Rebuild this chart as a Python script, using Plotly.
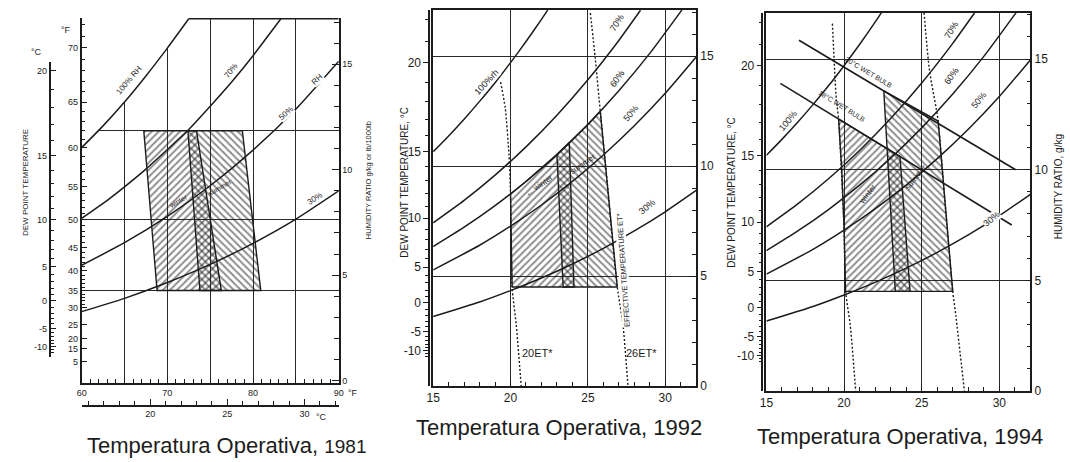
import plotly.graph_objects as go

FIG_W, FIG_H = 1070, 462
INK = "#1c1c1c"
GRID = "#2a2a2a"
FONT = "Liberation Sans, Arial, sans-serif"

# ---------------- 1981 chart: operative temperature in °F, humidity ratio in g/kg ----------------
f81_t100 = [60, 62.5, 65, 67.5, 70, 72.5]
f81_rh100 = [11.05, 12.08, 13.21, 14.45, 15.77, 17.16]
f81_t70 = [60, 62.5, 65, 67.5, 70, 72.5, 75, 77.5, 80, 83.25]
f81_rh70 = [7.69, 8.40, 9.19, 10.03, 10.96, 11.91, 13.01, 14.16, 15.41, 17.16]
f81_t = [60, 65, 70, 75, 80, 85, 90]
f81_rh50 = [5.47, 6.54, 7.79, 9.24, 10.93, 12.88, 15.15]
f81_rh30 = [3.27, 3.90, 4.65, 5.51, 6.51, 7.66, 9.00]
f81_dewpoint_lines = [11.85, 7.63, 4.27]          # 62 °F, 50 °F, 35 °F dew point
f81_winter_t = [67.25, 73.4, 76.3, 68.8]
f81_winter_w = [11.85, 11.85, 4.27, 4.27]
f81_summer_t = [72.4, 78.75, 80.9, 73.8]
f81_summer_w = [11.85, 11.85, 4.27, 4.27]

dpF_text = ["70", "65", "60", "55", "50", "45", "40", "35", "30", "25", "20", "15", "5"]
dpF_w = [15.8, 13.21, 11.05, 9.19, 7.63, 6.31, 5.20, 4.27, 3.45, 2.65, 2.0, 1.5, 0.9]
dpF_minor_w = [3.6, 3.78, 3.94, 4.09, 4.43, 4.62, 4.80, 4.99, 5.40, 5.62, 5.85, 6.07,
               6.56, 6.82, 7.08, 7.35, 7.93, 8.22, 8.54, 8.86, 9.54, 9.90, 10.27,
               10.65, 11.45, 11.88, 12.31, 12.76, 13.70, 14.19, 14.70, 15.24, 16.34, 16.9]

# dew point scale in °C (shared by all three charts)
dpC_text = ["20", "15", "10", "5", "0", "-5", "-10"]
dpC_w = [14.70, 10.65, 7.63, 5.40, 3.78, 2.47, 1.60]
dpC_minor_w = [1.34, 1.46, 1.60, 1.75, 1.91, 2.08, 2.27, 2.47, 2.69, 2.93, 3.19, 3.47,
               3.78, 4.06, 4.36, 4.69, 5.03, 5.40, 5.80, 6.21, 6.66, 7.13, 7.63, 8.16,
               8.73, 9.33, 9.97, 10.65, 11.37, 12.13, 12.94, 13.79, 14.70, 15.66, 16.67]

# ---------------- 1992 / 1994 charts: operative temperature in °C ----------------
c_t100 = [15, 16, 17, 18, 19, 20, 21, 22, 22.4]
c_rh100 = [10.65, 11.37, 12.13, 12.94, 13.79, 14.70, 15.66, 16.67, 17.09]
c_t70 = [15, 17, 19, 21, 23, 25, 27, 28.4]
c_rh70 = [7.42, 8.44, 9.59, 10.87, 12.31, 13.92, 15.71, 17.08]
c_t60 = [15, 17, 19, 21, 23, 25, 27, 29, 31.08]
c_rh60 = [6.34, 7.22, 8.20, 9.30, 10.52, 11.89, 13.42, 15.12, 17.1]
c_t = [15, 18, 20, 22, 24, 26, 28, 30, 32]
c_rh50 = [5.28, 6.40, 7.27, 8.23, 9.30, 10.50, 11.83, 13.31, 14.96]
c_rh30 = [3.16, 3.82, 4.34, 4.91, 5.55, 6.26, 7.05, 7.92, 8.89]

# 1992 comfort zones and effective temperature lines
f92_winter_t = [20.1, 20.0, 21.0, 23.0, 23.8, 24.1]
f92_winter_w = [4.5, 8.73, 9.30, 10.52, 11.06, 4.5]
f92_summer_t = [23.0, 24.0, 25.0, 25.8, 26.15, 26.9, 23.4]
f92_summer_w = [10.52, 11.19, 11.89, 12.49, 10.0, 4.5, 4.5]
f92_et20_t = [19.36, 19.66, 19.9, 20.0, 20.1, 20.37, 20.69]
f92_et20_w = [13.82, 12.63, 10.5, 8.73, 4.5, 2.78, 0.0]
f92_et26_t = [25.16, 25.48, 25.8, 26.15, 26.9, 27.27, 27.59]
f92_et26_w = [16.96, 14.87, 12.49, 10.0, 4.5, 2.78, 0.0]

# 1994 comfort zones, wet bulb limits and effective temperature lines
f94_winter_t = [19.65, 23.6, 24.25, 20.1, 20.0, 19.85]
f94_winter_w = [12.29, 10.6, 4.5, 4.5, 7.4, 10.0]
f94_summer_t = [22.56, 26.06, 27.0, 23.3]
f94_summer_w = [13.56, 12.2, 4.5, 4.5]
f94_wb20_t = [17.1, 31.05]
f94_wb20_w = [15.85, 10.0]
f94_wb18_t = [15.9, 30.8]
f94_wb18_w = [13.9, 7.5]
f94_et20_t = [19.25, 19.5, 19.65, 20.0, 20.1, 20.4, 20.75]
f94_et20_w = [16.6, 13.2, 12.29, 7.4, 4.5, 2.98, 0.0]
f94_et26_t = [25.15, 25.5, 26.06, 26.5, 27.0, 27.2, 27.75]
f94_et26_w = [17.09, 14.5, 12.2, 8.5, 4.5, 3.4, 0.0]


def px_x(x):
    return x / FIG_W


def px_y(y):
    return 1 - y / FIG_H


def dom_x(a, b):
    return [a / FIG_W, b / FIG_W]


def dom_y(top, bottom):
    return [1 - bottom / FIG_H, 1 - top / FIG_H]


fig = go.Figure()


def line(xs, ys, xa, ya, dash="solid", width=1.5, shape="spline"):
    fig.add_trace(go.Scatter(x=xs, y=ys, xaxis=xa, yaxis=ya, mode="lines",
                             line=dict(color=INK, width=width, dash=dash, shape=shape,
                                       smoothing=0.6),
                             hoverinfo="skip", showlegend=False))


def zone(xs, ys, xa, ya, pattern):
    fig.add_trace(go.Scatter(x=xs + xs[:1], y=ys + ys[:1], xaxis=xa, yaxis=ya,
                             mode="lines", line=dict(color=INK, width=1.4),
                             fill="toself", fillcolor="rgba(0,0,0,0)",
                             fillpattern=dict(shape=pattern, size=5, solidity=0.4,
                                              fgcolor=INK, bgcolor="rgba(0,0,0,0)"),
                             hoverinfo="skip", showlegend=False))


def anchor(xa, ya):
    fig.add_trace(go.Scatter(x=[None], y=[None], xaxis=xa, yaxis=ya, mode="lines",
                             hoverinfo="skip", showlegend=False))


def label(text, x, y, xa, ya, angle=0, size=9, bg="white"):
    fig.add_annotation(text=text, x=x, y=y, xref=xa, yref=ya, showarrow=False,
                       textangle=angle, xanchor="center", yanchor="middle",
                       font=dict(size=size, color=INK, family=FONT),
                       bgcolor=bg, borderpad=0)


def paper_text(text, x, y, size, angle=0, color=INK):
    fig.add_annotation(text=text, x=px_x(x), y=px_y(y), xref="paper", yref="paper",
                       showarrow=False, textangle=angle, xanchor="center",
                       yanchor="middle", font=dict(size=size, color=color, family=FONT))


# ---------------- 1981 panel ----------------
P1_X = (75.5, 335.5)
P1_Y = (18, 389)
P1_XR = [60, 90]
P1_YR = [-0.12, 17.21]

# white mask above saturation hides grid lines there
mask_x = f81_t100 + [f81_t100[-1], P1_XR[0] - 1, P1_XR[0] - 1]
mask_y = f81_rh100 + [P1_YR[1] + 1, P1_YR[1] + 1, f81_rh100[0]]
fig.add_trace(go.Scatter(x=mask_x, y=mask_y, xaxis="x", yaxis="y", mode="none",
                         fill="toself", fillcolor="white", hoverinfo="skip",
                         showlegend=False))
zone(f81_winter_t, f81_winter_w, "x", "y", "/")
zone(f81_summer_t, f81_summer_w, "x", "y", "\\")
line(f81_t100, f81_rh100, "x", "y")
line(f81_t70, f81_rh70, "x", "y")
line(f81_t, f81_rh50, "x", "y")
line(f81_t, f81_rh30, "x", "y")
# top border of the chart, from the saturation curve to the right edge
line([f81_t100[-1], P1_XR[1]], [f81_rh100[-1], f81_rh100[-1]], "x", "y", width=1.5,
     shape="linear")

label("100% RH", 65.5, 14.23, "x", "y", -50, 8)
label("70%", 77.45, 14.7, "x", "y", -52, 8)
label("50%", 83.8, 12.68, "x", "y", -42, 8)
label("RH", 87.45, 14.3, "x", "y", -42, 8)
label("30%", 87.25, 8.63, "x", "y", -32, 8)
label("winter", 71.2, 8.5, "x", "y", -30, 7, None)
label("summer", 76.1, 9.17, "x", "y", -30, 7, None)

anchor("x", "y2")
anchor("x", "y3")
anchor("x5", "y4")
anchor("x2", "y")

# ---------------- 1992 panel ----------------
zone(f92_winter_t, f92_winter_w, "x3", "y5", "/")
zone(f92_summer_t, f92_summer_w, "x3", "y5", "\\")
for xs, ys in [(c_t100, c_rh100), (c_t70, c_rh70), (c_t60, c_rh60), (c_t, c_rh50),
               (c_t, c_rh30)]:
    line(xs, ys, "x3", "y5")
line(f92_et20_t, f92_et20_w, "x3", "y5", dash="2px,2px", width=1.4)
line(f92_et26_t, f92_et26_w, "x3", "y5", dash="2px,2px", width=1.4)
label("100%rh", 18.45, 13.82, "x3", "y5", -47, 9)
label("70%", 26.87, 16.5, "x3", "y5", -58, 9)
label("60%", 26.87, 13.97, "x3", "y5", -55, 9)
label("50%", 27.8, 12.4, "x3", "y5", -50, 9)
label("30%", 28.8, 8.15, "x3", "y5", -40, 9)
label("← winter", 21.86, 9.12, "x3", "y5", -35, 8, None)
label("summer", 24.63, 10.09, "x3", "y5", -35, 8, None)
label("20ET*", 21.75, 1.5, "x3", "y5", 0, 11, None)
label("26ET*", 28.46, 1.5, "x3", "y5", 0, 11, None)
label("EFFECTIVE TEMPERATURE ET*", 27.27, 5.27, "x3", "y5", -94, 7.5)
anchor("x3", "y6")

# ---------------- 1994 panel ----------------
zone(f94_winter_t, f94_winter_w, "x4", "y7", "/")
zone(f94_summer_t, f94_summer_w, "x4", "y7", "\\")
for xs, ys in [(c_t100, c_rh100), (c_t70, c_rh70), (c_t60, c_rh60), (c_t, c_rh50),
               (c_t, c_rh30)]:
    line(xs, ys, "x4", "y7")
line(f94_wb20_t, f94_wb20_w, "x4", "y7", width=1.6, shape="linear")
line(f94_wb18_t, f94_wb18_w, "x4", "y7", width=1.6, shape="linear")
line(f94_et20_t, f94_et20_w, "x4", "y7", dash="2px,2px", width=1.4)
line(f94_et26_t, f94_et26_w, "x4", "y7", dash="2px,2px", width=1.4)
label("100%", 16.4, 12.18, "x4", "y7", -50, 9)
label("70%", 26.9, 16.33, "x4", "y7", -58, 9)
label("60%", 26.9, 14.25, "x4", "y7", -55, 9)
label("50%", 28.7, 13.14, "x4", "y7", -50, 9)
label("30%", 29.5, 7.75, "x4", "y7", -40, 9)
label("20°C WET BULB", 21.6, 14.4, "x4", "y7", 31, 7, None)
label("18°C WET BULB", 19.9, 12.85, "x4", "y7", 32, 7, None)
label("winter", 21.5, 8.9, "x4", "y7", -52, 8, None)
label("summer", 24.6, 9.66, "x4", "y7", -52, 8, None)
anchor("x4", "y8")

# ---------------- axes ----------------
tick_font_s = dict(size=9, color=INK, family=FONT)
tick_font = dict(size=12, color=INK, family=FONT)
base = dict(showline=True, linecolor=INK, linewidth=1.5, tickcolor=INK, tickwidth=1.2,
            zeroline=False, fixedrange=True)

p1_grid_ticks = [60, 65, 70, 75, 80, 85, 90]
fig.update_layout(
    xaxis=dict(base, domain=dom_x(*P1_X), range=P1_XR, anchor="y",
               tickmode="array", tickvals=p1_grid_ticks,
               ticktext=["60", "", "70", "", "80", "", "90"],
               ticks="inside", ticklen=6, showgrid=True, gridcolor=GRID, gridwidth=1.4,
               minor=dict(tickmode="linear", tick0=0, dtick=1, ticks="inside", ticklen=4,
                          tickcolor=INK, showgrid=False),
               tickfont=tick_font_s),
    xaxis2=dict(base, overlaying="x", anchor="free", position=px_y(412),
                range=[(P1_XR[0] - 32) / 1.8, (P1_XR[1] - 32) / 1.8],
                tickmode="array", tickvals=[20, 25, 30], ticks="inside", ticklen=6,
                minor=dict(tickmode="linear", tick0=0, dtick=1, ticks="inside", ticklen=4,
                           tickcolor=INK),
                showgrid=False, tickfont=tick_font_s),
    # hidden companion axis for the free-standing °C dew point scale
    xaxis5=dict(domain=dom_x(*P1_X), range=P1_XR, anchor="y4", visible=False,
                showgrid=False, zeroline=False, fixedrange=True),
    yaxis=dict(domain=dom_y(*P1_Y), range=P1_YR, anchor="x", showline=False,
               tickmode="array", tickvals=f81_dewpoint_lines, showticklabels=False,
               ticks="", showgrid=True, gridcolor=GRID, gridwidth=1.4, zeroline=False,
               fixedrange=True),
    yaxis2=dict(base, overlaying="y", side="right", anchor="x", range=P1_YR,
                tickmode="array", tickvals=[0, 5, 10, 15], ticks="inside", ticklen=7,
                minor=dict(tickmode="linear", tick0=0, dtick=1, ticks="inside", ticklen=5,
                           tickcolor=INK),
                showgrid=False, tickfont=tick_font_s),
    yaxis3=dict(base, overlaying="y", side="left", anchor="x", range=P1_YR,
                tickmode="array", tickvals=dpF_w, ticktext=dpF_text, ticks="inside",
                ticklen=6, minor=dict(tickmode="array", tickvals=dpF_minor_w,
                                      ticks="inside", ticklen=4, tickcolor=INK),
                showgrid=False, tickfont=tick_font_s),
    yaxis4=dict(base, anchor="free", position=px_x(43), side="left",
                domain=dom_y(63, 362),
                range=[(386.4 - 362) / 21.41, (386.4 - 63) / 21.41],
                tickmode="array", tickvals=dpC_w, ticktext=dpC_text, ticks="inside",
                ticklen=6, minor=dict(tickmode="array", tickvals=dpC_minor_w,
                                      ticks="inside", ticklen=4, tickcolor=INK),
                showgrid=False, tickfont=tick_font_s),
)

for xa, ya, yb, xdom, ydom, yr, dp_pos in [
        ("xaxis3", "yaxis5", "yaxis6", (431, 697), (10, 392), [0, 17.1], 427),
        ("xaxis4", "yaxis7", "yaxis8", (768, 1035), (13, 397), [0, 17.09], 764)]:
    xid = "x" + xa[5:]
    yid = "y" + ya[5:]
    fig.update_layout({
        xa: dict(base, domain=dom_x(*xdom), range=[15, 32], anchor=yid, mirror=True,
                 tickmode="array", tickvals=[15, 20, 25, 30], ticks="inside", ticklen=5,
                 showgrid=True, gridcolor=GRID, gridwidth=1.4,
                 minor=dict(tickmode="linear", tick0=0, dtick=1, ticks="inside",
                            ticklen=4, tickcolor=INK),
                 tickfont=tick_font),
        ya: dict(base, domain=dom_y(*ydom), range=yr, anchor=xid, side="right",
                 mirror=True, tickmode="array", tickvals=[0, 5, 10, 15], ticks="inside",
                 ticklen=6, showgrid=True, gridcolor=GRID, gridwidth=1.4,
                 minor=dict(tickmode="linear", tick0=0, dtick=1, ticks="inside",
                            ticklen=4, tickcolor=INK),
                 tickfont=tick_font),
        yb: dict(base, overlaying=yid, anchor="free", position=px_x(dp_pos), side="left",
                 range=yr, tickmode="array", tickvals=dpC_w, ticktext=dpC_text,
                 ticks="outside", ticklen=5,
                 minor=dict(tickmode="array", tickvals=dpC_minor_w, ticks="outside",
                            ticklen=3, tickcolor=INK),
                 showgrid=False, tickfont=tick_font),
    })

# axis titles, unit marks and captions
paper_text("DEW POINT TEMPERATURE", 18, 185, 8, -90)
paper_text("°C", 30, 53, 9)
paper_text("°F", 60, 30, 9)
paper_text("°F", 350, 399, 9)
paper_text("°C", 318, 423, 9)
paper_text("HUMIDITY RATIO g/kg or lb/1000lb", 365, 183, 7.5, -90)
paper_text("DEW POINT TEMPERATURE, °C", 402, 185, 10, -90)
paper_text("DEW POINT TEMPERATURE, °C", 732, 195, 10, -90)
paper_text("HUMIDITY RATIO, g/kg", 1063, 190, 10, -90)
paper_text("Temperatura Operativa, <span style='font-size:19px'>1981</span>", 222, 452, 22)
paper_text("Temperatura Operativa, 1992", 558, 434, 22)
paper_text("Temperatura Operativa, 1994", 903, 443, 22)

fig.update_layout(width=FIG_W, height=FIG_H, margin=dict(l=0, r=0, t=0, b=0),
                  paper_bgcolor="white", plot_bgcolor="rgba(0,0,0,0)", showlegend=False,
                  font=dict(family=FONT, color=INK))

fig.write_html("out.html", config={"displayModeBar": False})
